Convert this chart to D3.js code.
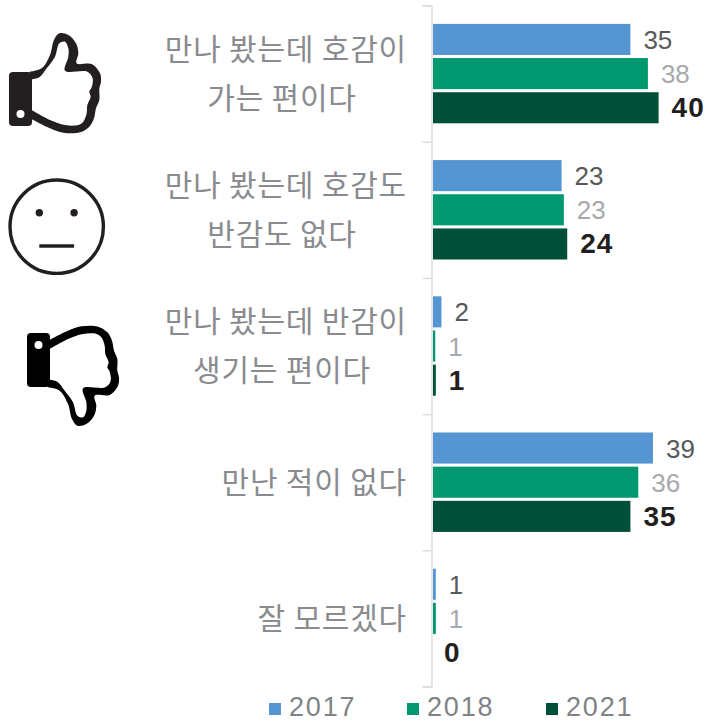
<!DOCTYPE html>
<html>
<head>
  <meta charset="utf-8">
  <script src="https://d3js.org/d3.v7.min.js"></script>
  <style>
    html, body { margin: 0; padding: 0; background: #fff; }
    svg { display: block; }
    .cat { font-family: "Noto Sans CJK KR", sans-serif; font-size: 30px; letter-spacing: 0.8px; fill: #898b8e; }
    .val { font-family: "Liberation Sans", Arial, sans-serif; font-size: 26px; }
    .val.bold { font-size: 28px; font-weight: bold; letter-spacing: 1px; }
    .leg { font-family: "Liberation Sans", Arial, sans-serif; font-size: 27px; letter-spacing: 1.8px; fill: #808285; }
  </style>
</head>
<body>
  <svg id="chart" width="706" height="722"></svg>

  <script>
    const categories = [
      ['만나 봤는데 호감이', '가는 편이다'],
      ['만나 봤는데 호감도', '반감도 없다'],
      ['만나 봤는데 반감이', '생기는 편이다'],
      ['만난 적이 없다'],
      ['잘 모르겠다']
    ];
    const years = ['2017', '2018', '2021'];
    const values2017 = [35, 22.8, 1.5, 39, 0.5];
    const values2018 = [38.1, 23.2, 0.4, 36.4, 0.5];
    const values2021 = [40, 23.8, 0.5, 35, 0];
    const labels2017 = ['35', '23', '2', '39', '1'];
    const labels2018 = ['38', '23', '1', '36', '1'];
    const labels2021 = ['40', '24', '1', '35', '0'];
    const colors = ['#5595d2', '#00996f', '#004f38'];
    const labelColors = ['#58595b', '#a7a9ac', '#231f20'];

    const series = [
      { year: years[0], values: values2017, labels: labels2017 },
      { year: years[1], values: values2018, labels: labels2018 },
      { year: years[2], values: values2021, labels: labels2021 }
    ];

    const svg = d3.select('#chart');

    const x = d3.scaleLinear().domain([0, 40]).range([433, 658.6]);
    const y0 = d3.scaleBand().domain(d3.range(categories.length))
      .range([5.5, 686.5]).paddingInner(0.27).paddingOuter(0.135);
    const y1 = d3.scaleBand().domain(years).range([0, y0.bandwidth()]).paddingInner(0.09);

    // axis ticks sit on the category boundaries, not the band centres
    const yEdge = d3.scaleLinear().domain([0, categories.length]).range([5.5, 686.5]);
    svg.append('g')
      .attr('transform', 'translate(431.5,0)')
      .call(d3.axisLeft(yEdge).tickValues(d3.range(categories.length + 1)).tickSize(9).tickFormat(''))
      .call(g => g.selectAll('path, line').attr('stroke', '#dcddde').attr('stroke-width', 1.5));

    const groups = svg.selectAll('.series')
      .data(series)
      .enter().append('g')
      .attr('class', 'series');

    groups.each(function (s, si) {
      const g = d3.select(this);
      g.selectAll('rect')
        .data(s.values)
        .enter().append('rect')
        .attr('x', x(0))
        .attr('y', (d, i) => y0(i) + y1(s.year))
        .attr('width', d => x(d) - x(0))
        .attr('height', y1.bandwidth())
        .attr('fill', colors[si]);

      g.selectAll('text')
        .data(s.values)
        .enter().append('text')
        .attr('class', si === 2 ? 'val bold' : 'val')
        .attr('x', d => x(d) + (d === 0 ? 11 : 13))
        .attr('y', (d, i) => y0(i) + y1(s.year) + y1.bandwidth() / 2 + 9.5)
        .attr('fill', labelColors[si])
        .text((d, i) => s.labels[i]);
    });

    // category labels: first line flush right, second line centred under it
    categories.forEach((lines, i) => {
      const mid = y0(i) + y0.bandwidth() / 2;
      lines.forEach((line, j) => {
        svg.append('text')
          .attr('class', 'cat')
          .attr('x', j === 0 ? 407 : 282)
          .attr('y', lines.length === 1 ? mid + 11 : mid - 14 + j * 49)
          .attr('text-anchor', j === 0 ? 'end' : 'middle')
          .text(line);
      });
    });

    // legend
    const legendX = [269, 407, 546];
    const legend = svg.selectAll('.legend')
      .data(years)
      .enter().append('g')
      .attr('class', 'legend')
      .attr('transform', (d, i) => `translate(${legendX[i]},703)`);
    legend.append('rect')
      .attr('width', 12).attr('height', 12)
      .attr('fill', (d, i) => colors[i]);
    legend.append('text')
      .attr('class', 'leg')
      .attr('x', 20).attr('y', 13)
      .text(d => d);

    // icons, traced at 3x and scaled down
    const traced = d3.line().x(d => d[0] / 3).y(d => d[1] / 3).curve(d3.curveCatmullRom.alpha(0.5));
    const thumbOuter = [[90, 215], [125, 205], [150, 165], [162, 120], [178, 100], [205, 105], [228, 130], [235, 160],
      [230, 190], [275, 192], [300, 220], [303, 245], [298, 265], [298, 300], [288, 325], [282, 355], [268, 380],
      [240, 397], [190, 398], [150, 385], [90, 355]];
    const thumbInner = [[95, 238], [118, 232], [140, 205], [165, 170], [178, 130], [195, 125], [205, 145], [205, 170],
      [195, 212], [262, 215], [278, 235], [275, 262], [268, 275], [272, 290], [262, 315], [260, 340], [250, 365],
      [235, 375], [195, 375], [150, 360], [95, 330]];

    function drawThumb(g, color) {
      g.append('path')
        .attr('d', traced(thumbOuter) + 'Z' + traced(thumbInner) + 'Z')
        .attr('fill', color)
        .attr('fill-rule', 'evenodd');
      g.append('rect')
        .attr('x', 9).attr('y', 72)
        .attr('width', 23).attr('height', 54)
        .attr('rx', 4)
        .attr('fill', color);
      g.append('circle')
        .attr('cx', 20.5).attr('cy', 114).attr('r', 4)
        .attr('fill', '#fff');
    }
    drawThumb(svg.append('g'), '#231f20');
    drawThumb(svg.append('g').attr('transform', 'translate(18,459) scale(1,-1)'), '#000');

    const face = svg.append('g').attr('transform', 'translate(56.7,226.7)');
    face.append('circle').attr('r', 46.7).attr('fill', 'none').attr('stroke', '#231f20').attr('stroke-width', 3.4);
    face.selectAll('.eye')
      .data([-17.4, 17.4])
      .enter().append('circle')
      .attr('class', 'eye')
      .attr('cx', d => d).attr('cy', -14).attr('r', 3.7)
      .attr('fill', '#231f20');
    face.append('line')
      .attr('x1', -17.4).attr('x2', 17.4).attr('y1', 19.3).attr('y2', 19.3)
      .attr('stroke', '#231f20').attr('stroke-width', 3.6);
  </script>
</body>
</html>
